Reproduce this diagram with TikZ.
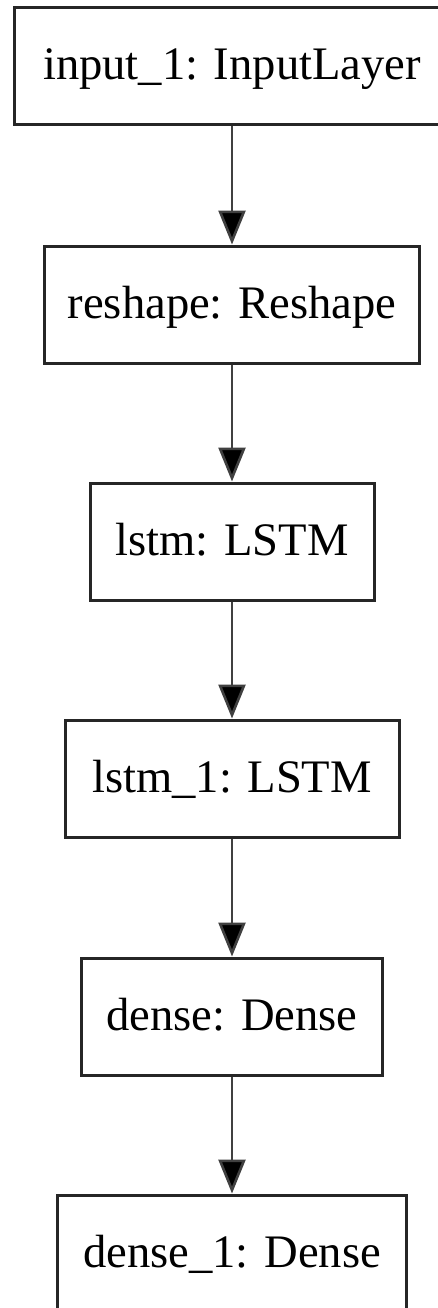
\documentclass[tikz,border=0pt]{standalone}
\usepackage{fontspec}
\setmainfont{Liberation Serif}
\usetikzlibrary{arrows.meta}
\begin{document}
\begin{tikzpicture}[x=1pt,y=-1pt,
  layer/.style={draw=black!85, line width=3pt, fill=white, rectangle,
    minimum height=117pt, inner sep=0pt, text height=33pt, text depth=6pt,
    font=\fontsize{46.6}{50}\selectfont},
  flow/.style={draw=black!75, line width=2.6pt,
    -{Triangle[width=27pt,length=34pt,fill=black]}}]
\useasboundingbox (0,0) rectangle (438,1308);
\fill[white] (0,0) rectangle (438,1308);
\node[layer, minimum width=436pt] (b1) at (232,66.5) {input\_1: InputLayer};
\node[layer, minimum width=375pt] (b2) at (232,304.5) {reshape: Reshape};
\node[layer, minimum width=284pt] (b3) at (232,541.5) {lstm: LSTM};
\node[layer, minimum width=334pt] (b4) at (232,778.5) {lstm\_1: LSTM};
\node[layer, minimum width=301pt] (b5) at (232,1016.5) {dense: Dense};
\node[layer, minimum width=349pt] (b6) at (232,1253.5) {dense\_1: Dense};
\draw[flow] (b1.south) -- (b2.north);
\draw[flow] (b2.south) -- (b3.north);
\draw[flow] (b3.south) -- (b4.north);
\draw[flow] (b4.south) -- (b5.north);
\draw[flow] (b5.south) -- (b6.north);
\end{tikzpicture}
\end{document}
